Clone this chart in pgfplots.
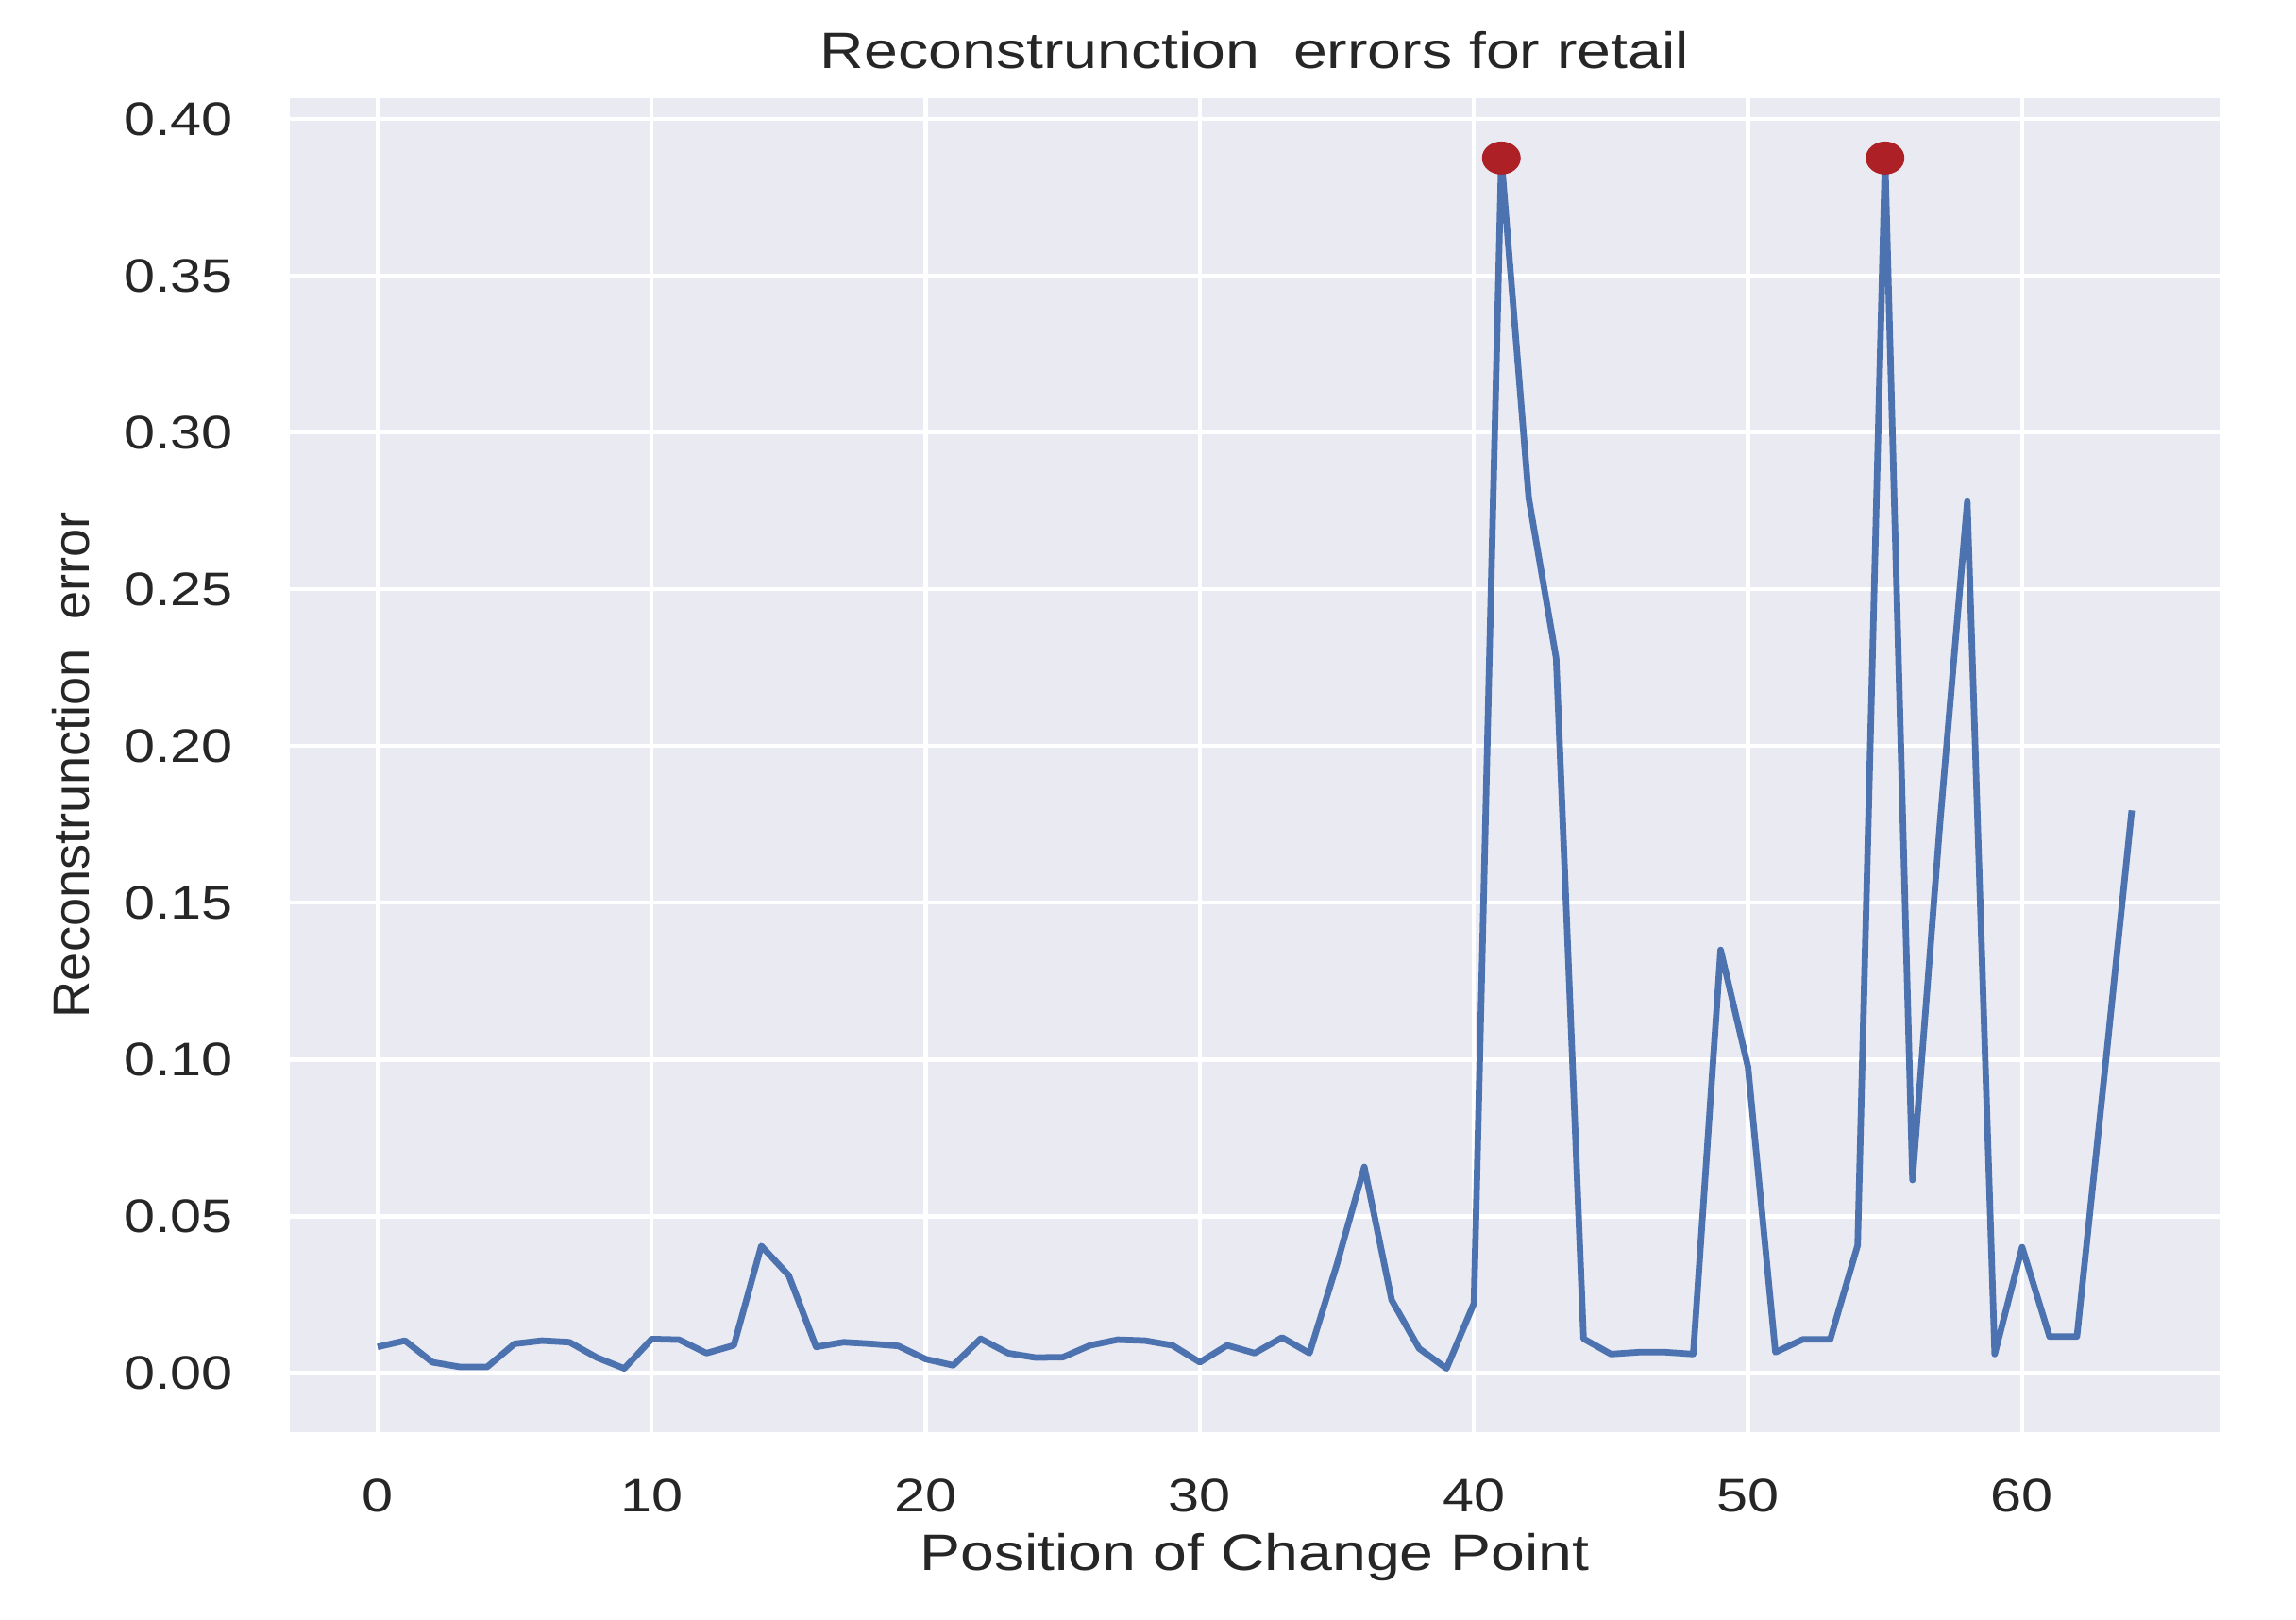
\documentclass[border=0pt]{standalone}
\usepackage{fontspec}
\setmainfont{Liberation Sans}[FakeStretch=1.19]
\newfontfamily\plainsans{Liberation Sans}
\usepackage{pgfplots}
\pgfplotsset{compat=1.18}
\definecolor{sbbg}{HTML}{EAEAF2}
\definecolor{sbblue}{HTML}{4C72B0}
\definecolor{peakred}{RGB}{172,32,38}
\definecolor{txt}{HTML}{262626}

\pgfplotstableread{
x y
0 0.0084
1 0.0104
2 0.0035
3 0.0020
4 0.0020
5 0.0094
6 0.0104
7 0.0099
8 0.0050
9 0.0015
10 0.0109
11 0.0107
12 0.0064
13 0.0089
14 0.0406
15 0.0312
16 0.0084
17 0.0099
18 0.0094
19 0.0087
20 0.0045
21 0.0025
22 0.0110
23 0.0064
24 0.0050
25 0.0051
26 0.0089
27 0.0107
28 0.0104
29 0.0089
30 0.0035
31 0.0089
32 0.0064
33 0.0114
34 0.0064
35 0.0347
36 0.0658
37 0.0233
38 0.0079
39 0.0015
40 0.0223
41 0.3875
42 0.2790
43 0.2280
44 0.0110
45 0.0061
46 0.0067
47 0.0067
48 0.0061
49 0.1350
50 0.0976
51 0.0067
52 0.0108
53 0.0108
54 0.0408
55 0.3875
56 0.0616
57 0.1750
58 0.2780
59 0.0061
60 0.0402
61 0.0117
62 0.0117
63 0.0950
64 0.1795
}\errtable

\begin{document}
\begin{tikzpicture}
  \begin{axis}[
    scale only axis,
    width=10.085cm, height=6.971cm,
    xmin=-3.2, xmax=67.2,
    ymin=-0.0187, ymax=0.4066,
    xtick={0,10,...,60},
    ytick={0,0.05,...,0.40},
    yticklabel style={/pgf/number format/fixed, /pgf/number format/fixed zerofill, /pgf/number format/precision=2},
    /pgf/number format/assume math mode=true,
    axis background/.style={fill=sbbg},
    axis line style={draw=none},
    major tick length=0pt,
    grid=major,
    major grid style={white, line width=0.6pt},
    tick label style={font=\fontsize{7}{8}\selectfont, text=txt, inner sep=0pt},
    xticklabel style={anchor=base, yshift=-0.42cm},
    yticklabel style={anchor=east, xshift=-0.29cm},
    label style={font=\fontsize{7.6}{9}\selectfont, text=txt},
    every axis title shift=0pt,
    title style={font=\fontsize{7.6}{9}\selectfont, text=txt, at={(0.5,1)}, anchor=base, yshift=0.153cm},
    xlabel style={at={(0.5,0)}, anchor=base, yshift=-0.725cm},
    ylabel style={font=\plainsans\fontsize{7.6}{9}\selectfont, at={(0,0.5)}, anchor=center, yshift=1.145cm},
    title={Reconstrunction\ \ errors for retail},
    xlabel={Position of Change Point},
    ylabel={Reconstrunction\ \ error},
  ]
    \addplot[peakred, only marks, mark=*, mark size=2.25pt, mark options={xscale=1.19, fill=peakred, draw=peakred}]
      coordinates {(41,0.3875) (55,0.3875)};
    \addplot[sbblue, line width=0.95pt, line join=round, no marks] table[x=x, y=y] {\errtable};
  \end{axis}
  \pgfresetboundingbox
  \path ([shift={(-1.515cm,-0.982cm)}]current axis.south west) rectangle ([shift={(0.40cm,0.513cm)}]current axis.north east);
\end{tikzpicture}
\end{document}
